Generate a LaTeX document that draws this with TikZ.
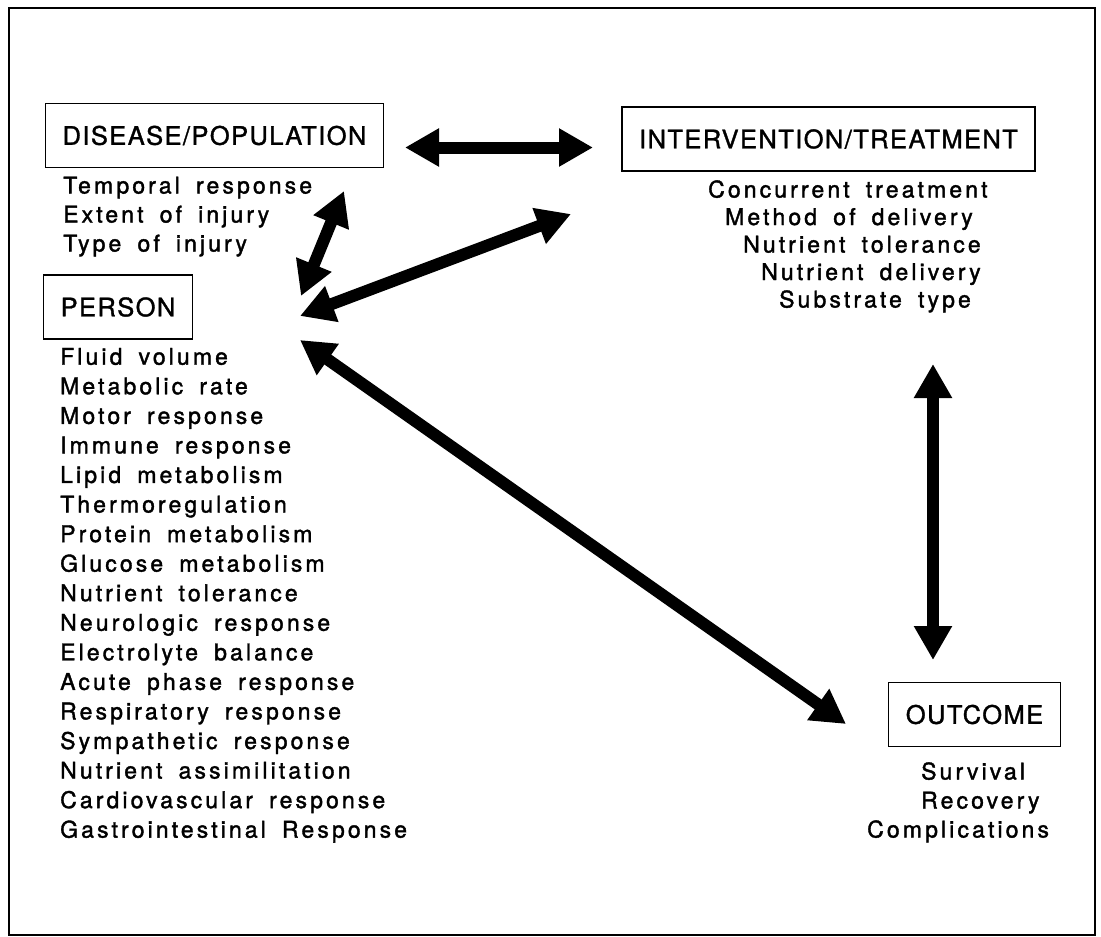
\documentclass[tikz,border=0pt]{standalone}
\usepackage{fontspec}
\setmainfont{TeX Gyre Heros}
\newfontfamily\caixafont[LetterSpace=5.5,FakeBold=1.3]{TeX Gyre Heros}
\newfontfamily\listafont[LetterSpace=13.5,WordSpace=1.7,FakeBold=1.6]{TeX Gyre Heros}
\usetikzlibrary{arrows.meta}
\usetikzlibrary{positioning}

\tikzset{
  caixa/.style={draw, line width=1.3pt, inner xsep=17pt, inner ysep=0pt, minimum height=64pt,
    font=\caixafont\fontsize{25.5}{30}\selectfont},
  item/.style={inner sep=0pt, anchor=base west, font=\listafont\fontsize{23}{29.5}\selectfont},
  seta/.style={line width=12pt, <->}
}

\begin{document}
\begin{tikzpicture}[x=1pt, y=-1pt, >={Triangle[width=36pt,length=34pt]}]

	% Moldura
	\useasboundingbox (0,0) rectangle (1101,937);
	\draw[line width=2pt] (9,8) rectangle (1095,935);

	% Caixas
	\node[caixa] (doenca) at (214.5,135.5) {DISEASE/POPULATION};
	\node[caixa] (trat) at (828.5,139) {INTERVENTION/TREATMENT};
	\node[caixa] (pessoa) at (118,307) {PERSON};
	\node[caixa] (desfecho) at (974.5,714.5) {OUTCOME};

	% Listas
	\foreach \t [count=\i] in {Temporal response, Extent of injury, Type of injury}
		\node[item] (d\i) at (63,{193.5+29*(\i-1)}) {\t};

	\foreach \t [count=\i] in {Fluid volume, Metabolic rate, Motor response, Immune response,
		Lipid metabolism, Thermoregulation, Protein metabolism, Glucose metabolism,
		Nutrient tolerance, Neurologic response, Electrolyte balance, Acute phase response,
		Respiratory response, Sympathetic response, Nutrient assimilitation,
		Cardiovascular response, Gastrointestinal Response}
		\node[item] (p\i) at (60,{364.7+29.56*(\i-1)}) {\t};

	\foreach \x/\t [count=\i] in {708/Concurrent treatment, 725/Method of delivery,
		743/Nutrient tolerance, 761/Nutrient delivery, 779/Substrate type}
		\node[item] (t\i) at (\x,{197.5+27.5*(\i-1)}) {\t};

	\foreach \x/\t [count=\i] in {921/Survival, 921/Recovery, 867/Complications}
		\node[item] (o\i) at (\x,{779.5+29*(\i-1)}) {\t};

	% Setas
	\draw[seta] ([shift={(190.5,12)}]doenca.center) -- ([shift={(-235.5,8.5)}]trat.center);
	\draw[seta] ([shift={(129.5,55.5)}]doenca.center) -- ([shift={(183,-11)}]pessoa.center);
	\draw[seta] ([shift={(182,9)}]pessoa.center) -- ([shift={(-257.5,75)}]trat.center);
	\draw[seta] ([shift={(182,33)}]pessoa.center) -- ([shift={(-128.5,9.5)}]desfecho.center);
	\draw[seta] ([shift={(104.5,225)}]trat.center) -- ([shift={(-41.5,-54.5)}]desfecho.center);

\end{tikzpicture}
\end{document}
